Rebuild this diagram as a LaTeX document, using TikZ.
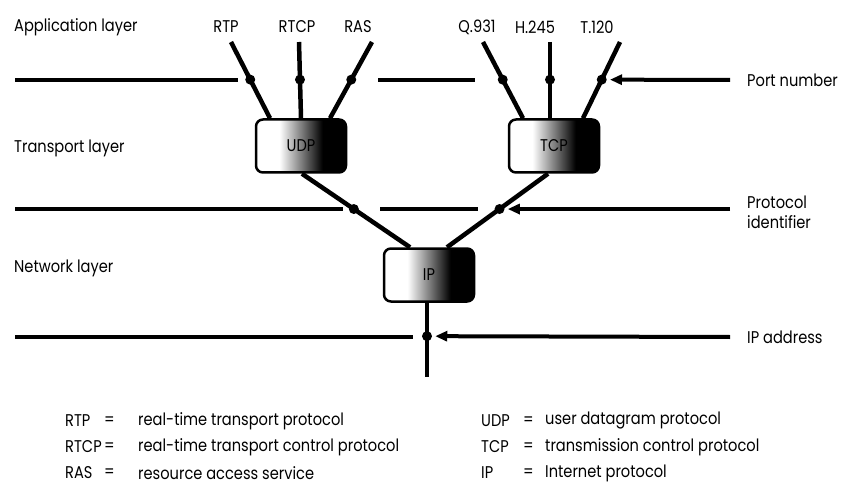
\documentclass[tikz,border=0pt]{standalone}
\usepackage{fontspec}
\setmainfont{Poppins}[FakeStretch=0.86]
\usepackage{tikz}
\usetikzlibrary{arrows.meta,positioning,calc}

\pgfdeclarehorizontalshading{boxshade}{100bp}{color(0bp)=(white); color(38bp)=(white); color(62bp)=(black); color(100bp)=(black)}

\begin{document}
\begin{tikzpicture}[
  x=1pt,y=-1pt,
  font=\fontsize{17}{20}\selectfont,
  lbl/.style={inner sep=0pt,anchor=west},
  proto/.style={inner sep=0pt},
  layer/.style={line width=4pt},
  conn/.style={line width=4.5pt},
  dot/.style={circle,fill=black,inner sep=0pt,minimum size=10pt},
  pbox/.style={rectangle,rounded corners=7pt,draw=black,line width=2.5pt,
               shading=boxshade,minimum width=90pt,minimum height=53pt,inner sep=0pt},
  pointer/.style={-{Triangle[length=12pt,width=10pt]},line width=4pt,shorten >=1pt}
]
\useasboundingbox (0,0) rectangle (852,484);

% ===================== layer names =====================
\node[lbl] (app) at (14,27) {Application layer};
\node[lbl] (trans) at (14,148) {Transport layer};
\node[lbl] (net) at (14,268) {Network layer};

% ===================== protocol names (top) =====================
\node[proto] (rtp) at (226,27) {RTP};
\node[proto] (rtcp) at (297,27) {RTCP};
\node[proto] (ras) at (358,27) {RAS};
\node[proto] (q931) at (477,27) {Q.931};
\node[proto] (h245) at (535,27) {H.245};
\node[proto] (t120) at (597,27) {T.120};

% ===================== protocol boxes =====================
\node[pbox] (udp) at (301,146) {UDP};
\node[pbox] (tcp) at (554,146) {TCP};
\node[pbox] (ip) at (429,275) {IP};

% ===================== layer boundaries =====================
\draw[layer] (15,80) -- (238,80);
\draw[layer] (378,80) -- (475,80);
\draw[layer] (15,209) -- (343,209);
\draw[layer] (380,209) -- (478,209);
\draw[layer] (15,337) -- (413,337);

% ===================== application -> transport =====================
\draw[conn] (231,42) -- node[dot,pos=.4935] (drtp) {} ($(udp.north)+(-31,0)$);
\draw[conn] (299,42) -- node[dot,pos=.4935] (drtcp) {} (udp.north);
\draw[conn] (372,42) -- node[dot,pos=.4935] (dras) {} ($(udp.north)+(29,0)$);
\draw[conn] (483,42) -- node[dot,pos=.4935] (dq931) {} ($(tcp.north)+(-31,0)$);
\draw[conn] (550,42) -- node[dot,pos=.4935] (dh245) {} ($(tcp.north)+(-4,0)$);
\draw[conn] (620,42) -- node[dot,pos=.4935] (dt120) {} ($(tcp.north)+(29,0)$);

% ===================== transport -> network =====================
\draw[conn] ($(udp.south)+(1,0)$) -- node[dot,pos=.48] (dudp) {} ($(ip.north)+(-19,0)$);
\draw[conn] ($(tcp.south)+(-6,0)$) -- node[dot,pos=.48] (dtcp) {} ($(ip.north)+(18,0)$);
\coordinate (ipend) at (427,377);
\draw[conn] ($(ip.south)+(-2,0)$) -- node[dot,pos=.45] (dip) {} (ipend);

% ===================== field labels (right) =====================
\node[lbl] (port) at (747,80) {Port number};
\node[lbl,align=left] (protoid) at (747,212) {Protocol\\identifier};
\node[lbl] (ipaddr) at (747,337) {IP address};
\draw[pointer] ($(port.west)+(-17,0)$) -- (dt120);
\draw[pointer] ($(protoid.west |- dtcp)+(-17,0)$) -- (dtcp);
\draw[pointer] ($(ipaddr.west)+(-17,0)$) -- (dip);

% ===================== legend =====================
\node[lbl] (kRTP) at (65,421) {RTP};
\node[lbl] (kRTCP) at (65,447) {RTCP};
\node[lbl] (kRAS) at (65,473) {RAS};
\node[lbl] (eRTP) at (104,421) {=};
\node[lbl] (eRTCP) at (104,447) {=};
\node[lbl] (eRAS) at (104,473) {=};
\node[lbl] (tRTP) at (138,421) {real-time transport protocol};
\node[lbl] (tRTCP) at (138,447) {real-time transport control protocol};
\node[lbl] (tRAS) at (138,473) {resource access service};
\node[lbl] (kUDP) at (481,421) {UDP};
\node[lbl] (kTCP) at (481,447) {TCP};
\node[lbl] (kIP) at (481,473) {IP};
\node[lbl] (eUDP) at (523,421) {=};
\node[lbl] (eTCP) at (523,447) {=};
\node[lbl] (eIP) at (523,473) {=};
\node[lbl] (tUDP) at (545,421) {user datagram protocol};
\node[lbl] (tTCP) at (545,447) {transmission control protocol};
\node[lbl] (tIP) at (545,473) {Internet protocol};

\end{tikzpicture}
\end{document}
